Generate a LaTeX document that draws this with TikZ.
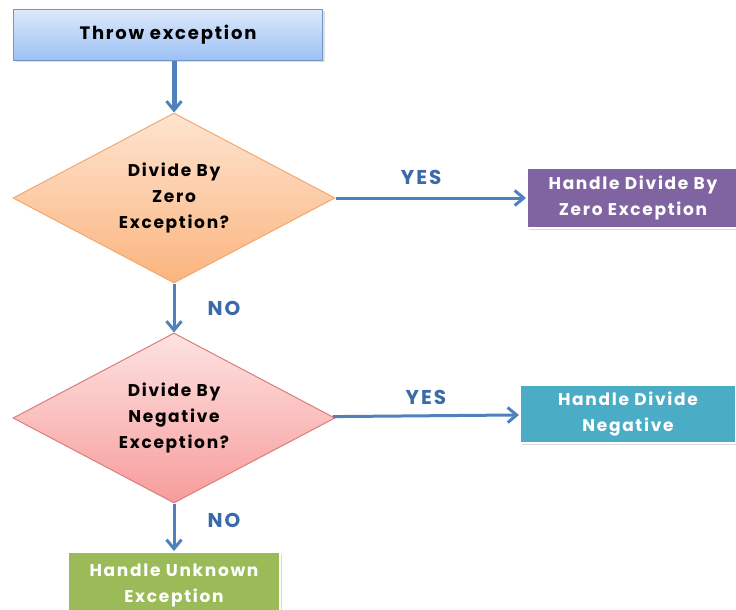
\documentclass[tikz,border=0pt]{standalone}
\usepackage{fontspec}
\setmainfont{Poppins}[LetterSpace=10]
\usepackage{tikz}
\usetikzlibrary{arrows.meta,shapes.geometric,shadows}
\definecolor{startline}{HTML}{7296CA}
\definecolor{starttop}{HTML}{DCE8FB}
\definecolor{startbot}{HTML}{9DC1F5}
\definecolor{zerotop}{HTML}{FEE4D0}
\definecolor{zerobot}{HTML}{FBB47E}
\definecolor{zeroline}{HTML}{F3A870}
\definecolor{negtop}{HTML}{FEE2E2}
\definecolor{negbot}{HTML}{F79C9B}
\definecolor{negline}{HTML}{D97E7D}
\definecolor{flowblue}{HTML}{4F81BD}
\definecolor{answerblue}{HTML}{3A6AA8}
\definecolor{purplebox}{HTML}{8064A2}
\definecolor{tealbox}{HTML}{4BACC6}
\definecolor{greenbox}{HTML}{9BBB59}
\tikzstyle{startbox}=[rectangle, draw=startline, line width=1.2pt,% light at the top, darker below
top color=starttop, bottom color=startbot, minimum width=309pt, minimum height=51pt,
drop shadow={shadow xshift=2pt, shadow yshift=-2pt, opacity=0.25},
font=\fontsize{18}{26}\selectfont\bfseries]
\tikzstyle{decision}=[diamond, aspect=1.9, minimum width=322pt, minimum height=170pt,
inner sep=0pt, line width=1pt, align=center, font=\fontsize{17}{26}\selectfont\bfseries]
\tikzstyle{handlebox}=[rectangle, draw=white, line width=2pt, text=white, align=center,
minimum width=212pt, minimum height=60pt,
drop shadow={shadow xshift=2pt, shadow yshift=-2pt, opacity=0.3},
font=\fontsize{17}{26}\selectfont\bfseries]
\tikzstyle{flow}=[-{Straight Barb[length=9pt,width=15pt,line width=3pt]}, draw=flowblue, line width=3pt]
\tikzstyle{answer}=[text=answerblue, inner sep=0pt, font=\fontsize{20}{22}\selectfont\bfseries]

\begin{document}
\begin{tikzpicture}[x=1pt,y=-1pt]
\useasboundingbox (0,0) rectangle (736,610);
\clip (0,0) rectangle (736,610);
\node[startbox] (throw) at (168,35) {Throw exception};
\node[decision, draw=zeroline, top color=zerotop, bottom color=zerobot] (zero) at (174,198) {Divide By\\Zero\\Exception?};
\node[decision, draw=negline, top color=negtop, bottom color=negbot] (neg) at (174,418) {Divide By\\Negative\\Exception?};
\node[handlebox, fill=purplebox] (hzero) at (633,198) {Handle Divide By\\Zero Exception};
\node[handlebox, fill=tealbox, minimum width=216pt, minimum height=58pt] (hneg) at (628,414) {Handle Divide\\Negative};
\node[handlebox, fill=greenbox, minimum height=66pt] (hunk) at (174,585) {Handle Unknown\\Exception};
\draw[flow, line width=5pt] (throw.south -| zero.north) -- (zero);
\draw[flow] (zero) -- node[answer, above=12pt, pos=0.45] {YES} (hzero);
\draw[flow] (zero) -- node[answer, right=32pt] {NO} (neg);
\draw[flow] (neg) -- node[answer, above=10pt, pos=0.5] {YES} (hneg);
\draw[flow] (neg) -- node[answer, right=32pt, pos=0.35] {NO} (hunk);
\end{tikzpicture}
\end{document}
